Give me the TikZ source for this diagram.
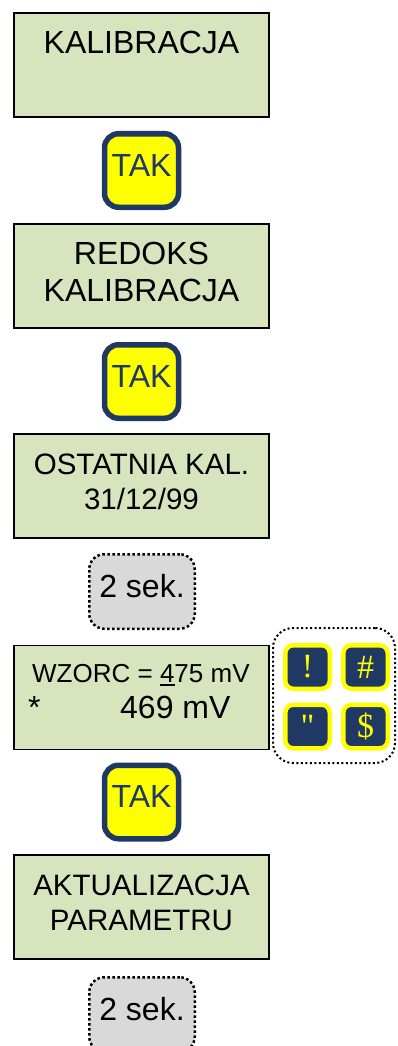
\documentclass[tikz,border=0pt]{standalone}
\usepackage{fontspec}
\setmainfont{Liberation Sans}
\newfontfamily\keyfont{Liberation Serif}
\definecolor{lcdgreen}{RGB}{215,228,189}
\definecolor{keyblue}{RGB}{31,56,100}
\definecolor{keyyellow}{RGB}{255,255,0}
\definecolor{waitgray}{RGB}{217,217,217}

\begin{document}
\begin{tikzpicture}[x=1pt, y=-1pt,
  lcd/.style={draw=black, line width=1.6pt, fill=lcdgreen, minimum width=255pt,
    minimum height=104pt, align=center, inner sep=0pt, text depth=8pt,
    font=\fontsize{32}{36.5}\selectfont},
  lcdsmall/.style={lcd, font=\fontsize{29.5}{35}\selectfont},
  takkey/.style={draw=keyblue, line width=5.5pt, fill=keyyellow, rounded corners=14pt,
    minimum width=74pt, minimum height=73.5pt, inner sep=0pt, text=keyblue,
    text depth=11pt, font=\fontsize{32}{37}\selectfont},
  wait/.style={draw=black, line width=2.5pt, dash pattern=on 2.5pt off 2.5pt,
    fill=waitgray, rounded corners=15pt, minimum width=105.5pt, minimum height=74.5pt,
    inner sep=0pt, text depth=11pt, font=\fontsize{32}{37}\selectfont},
  arrowkey/.style={draw=keyyellow, line width=4.5pt, fill=keyblue, rounded corners=8pt,
    minimum width=44.5pt, minimum height=43.5pt, inner sep=0pt, text=keyyellow,
    font=\keyfont\fontsize{34}{34}\selectfont}]
  \useasboundingbox (0,0) rectangle (397,1046);

  % Display screens
  \node[lcd] (kal) at (141.5,65) {KALIBRACJA\\\mbox{}};
  \node[lcd] (redoks) at (141.5,276) {REDOKS\\KALIBRACJA};
  \node[lcdsmall] (ostatnia) at (141.5,486) {OSTATNIA KAL.\\31/12/99};
  \node[lcd] (wzorzec) at (141.5,697.5) {};
  \node[lcdsmall] (aktual) at (141.5,907) {AKTUALIZACJA\\PARAMETRU};

  % Text on the standard screen
  \node[anchor=base west, inner sep=0pt, font=\fontsize{26}{30}\selectfont] (wzorc) at (32,682)
    {WZORC = \rlap{\rule[-3.5pt]{14.5pt}{1.8pt}}475 mV};
  \node[anchor=base west, inner sep=0pt, font=\fontsize{32}{37}\selectfont] (star) at (28,718) {*};
  \node[anchor=base west, inner sep=0pt, font=\fontsize{32}{37}\selectfont] (pomiar) at (120,718) {469 mV};

  % TAK keys
  \node[takkey] (tak1) at (141.5,170.5) {TAK};
  \node[takkey] (tak2) at (141.5,381.5) {TAK};
  \node[takkey] (tak3) at (141.5,802) {TAK};

  % Waiting time
  \node[wait] (czas1) at (142,591.5) {2 sek.};
  \node[wait] (czas2) at (142,1014.5) {2 sek.};

  % Arrow keys
  \node[draw=black, line width=2pt, dash pattern=on 2pt off 2.5pt, rounded corners=20pt,
    minimum width=122pt, minimum height=135pt] (klawisze) at (334,695.5) {};
  \node[arrowkey] (gora) at (307.5,667) {!};
  \node[arrowkey] (prawo) at (365.5,667) {\#};
  \node[arrowkey] (dol) at (307.5,726.5) {"};
  \node[arrowkey] (lewo) at (365.5,726.5) {\$};
\end{tikzpicture}
\end{document}
